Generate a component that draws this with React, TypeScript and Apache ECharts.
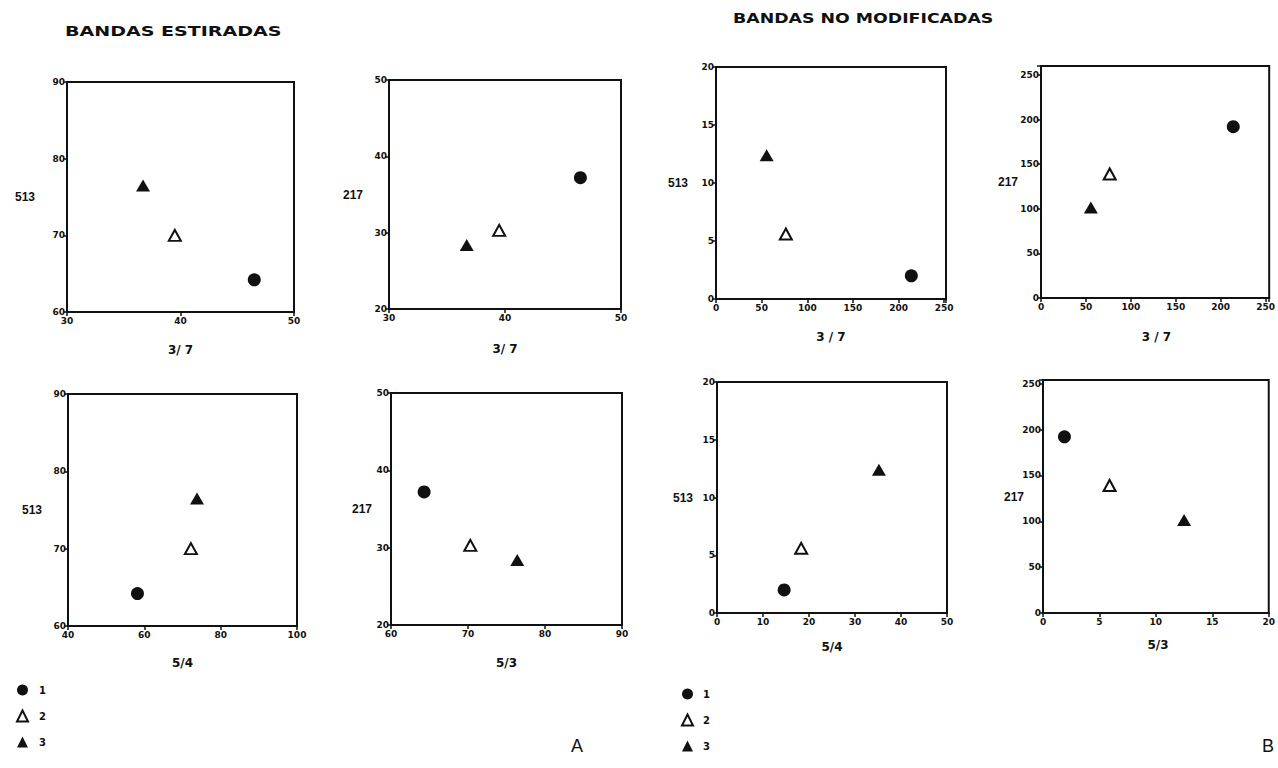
import React, { useEffect, useRef } from 'react';
import * as echarts from 'echarts';

const groups = ['1', '2', '3'];

// Bandas estiradas (A)
const estRatio37 = [46.5, 39.5, 36.7];
const estRatio54 = [58.2, 72.2, 73.8];
const estRatio53 = [64.3, 70.3, 76.4];
const estBand513 = [64.2, 70.0, 76.5];
const estBand217 = [37.2, 30.3, 28.4];

// Bandas no modificadas (B)
const noModRatio37 = [214, 76.5, 55.5];
const noModRatio54 = [14.6, 18.3, 35.2];
const noModRatio53 = [1.9, 5.9, 12.5];
const noModBand513 = [2.0, 5.6, 12.4];
const noModBand217 = [192, 139, 101.5];

const titleA = 'BANDAS ESTIRADAS';
const titleB = 'BANDAS NO MODIFICADAS';

type Panel = {
  xs: number[]; ys: number[]; xName: string; yName: string;
  xMin: number; xMax: number; xInt: number;
  yMin: number; yMax: number; yInt: number;
  left: number; top: number; width: number; height: number;
  yNameRight: number; xNameGap: number;
};

const panels: Panel[] = [
  { xs: estRatio37, ys: estBand513, xName: '3/ 7', yName: '513', xMin: 30, xMax: 50, xInt: 10, yMin: 60, yMax: 90, yInt: 10, left: 67, top: 82, width: 227, height: 230, yNameRight: 35, xNameGap: 38 },
  { xs: estRatio37, ys: estBand217, xName: '3/ 7', yName: '217', xMin: 30, xMax: 50, xInt: 10, yMin: 20, yMax: 50, yInt: 10, left: 389, top: 80, width: 232, height: 229, yNameRight: 363, xNameGap: 40 },
  { xs: noModRatio37, ys: noModBand513, xName: '3 / 7', yName: '513', xMin: 0, xMax: 252, xInt: 50, yMin: 0, yMax: 20, yInt: 5, left: 716, top: 67, width: 230, height: 232, yNameRight: 688, xNameGap: 38 },
  { xs: noModRatio37, ys: noModBand217, xName: '3 / 7', yName: '217', xMin: 0, xMax: 254, xInt: 50, yMin: 0, yMax: 260, yInt: 50, left: 1041, top: 66, width: 231, height: 232, yNameRight: 1018, xNameGap: 39 },
  { xs: estRatio54, ys: estBand513, xName: '5/4', yName: '513', xMin: 40, xMax: 100, xInt: 20, yMin: 60, yMax: 90, yInt: 10, left: 68, top: 394, width: 229, height: 232, yNameRight: 42, xNameGap: 37 },
  { xs: estRatio53, ys: estBand217, xName: '5/3', yName: '217', xMin: 60, xMax: 90, xInt: 10, yMin: 20, yMax: 50, yInt: 10, left: 391, top: 393, width: 231, height: 232, yNameRight: 372, xNameGap: 38 },
  { xs: noModRatio54, ys: noModBand513, xName: '5/4', yName: '513', xMin: 0, xMax: 50, xInt: 10, yMin: 0, yMax: 20, yInt: 5, left: 717, top: 382, width: 230, height: 231, yNameRight: 693, xNameGap: 34 },
  { xs: noModRatio53, ys: noModBand217, xName: '5/3', yName: '217', xMin: 0, xMax: 20, xInt: 5, yMin: 0, yMax: 254, yInt: 50, left: 1043, top: 380, width: 230, height: 233, yNameRight: 1024, xNameGap: 32 },
];

const INK = '#111';
const FONT = 'DejaVu Sans';

const symbolFor = (g: number) => (g === 0 ? 'circle' : 'triangle');
const sizeFor = (g: number) => (g === 0 ? 13 : g === 1 ? [12, 11] : [14, 12]);
const styleFor = (g: number) =>
  g === 1
    ? { color: '#fff', borderColor: INK, borderWidth: 2, opacity: 1 }
    : { color: INK, borderColor: INK, borderWidth: 0, opacity: 1 };

function labelFmt(int: number) {
  return (v: number) => (Math.abs(v / int - Math.round(v / int)) < 1e-6 ? String(v) : '');
}

export default function App() {
  const ref = useRef<HTMLDivElement>(null);
  useEffect(() => {
    document.body.style.margin = '0';
    if (!ref.current) return;
    const chart = echarts.init(ref.current, undefined, { renderer: 'svg' });

    const grid = panels.map((p) => ({
      left: p.left, top: p.top, width: p.width, height: p.height,
      show: true, borderColor: INK, borderWidth: 2, backgroundColor: 'transparent',
    }));
    const xAxis = panels.map((p, i) => ({
      type: 'value', gridIndex: i, min: p.xMin, max: p.xMax, interval: p.xInt,
      axisLine: { show: true, lineStyle: { color: INK, width: 2 } },
      axisTick: { show: true, length: 4, lineStyle: { color: INK, width: 1.5 } },
      axisLabel: { color: INK, fontSize: 9, fontWeight: 'bold', fontFamily: FONT, margin: 4, formatter: labelFmt(p.xInt) },
      splitLine: { show: false },
    }));
    const yAxis = panels.map((p, i) => ({
      type: 'value', gridIndex: i, min: p.yMin, max: p.yMax, interval: p.yInt,
      axisLine: { show: true, lineStyle: { color: INK, width: 2 } },
      axisTick: { show: true, length: 4, lineStyle: { color: INK, width: 1.5 } },
      axisLabel: { color: INK, fontSize: 9, fontWeight: 'bold', fontFamily: FONT, margin: 2, formatter: labelFmt(p.yInt) },
      splitLine: { show: false },
    }));

    const series: any[] = [];
    panels.forEach((p, i) => {
      groups.forEach((g, gi) => {
        series.push({
          type: 'scatter', name: g, xAxisIndex: i, yAxisIndex: i,
          symbol: symbolFor(gi), symbolSize: sizeFor(gi),
          itemStyle: styleFor(gi),
          emphasis: { disabled: true },
          data: [[p.xs[gi], p.ys[gi]]],
        });
      });
    });

    const graphic: any[] = [
      { type: 'text', left: 65, top: 24, scaleX: 1.36, style: { text: titleA, fontSize: 14, fontWeight: 'bold', fontFamily: FONT, fill: INK } },
      { type: 'text', left: 733, top: 11, scaleX: 1.24, style: { text: titleB, fontSize: 14, fontWeight: 'bold', fontFamily: FONT, fill: INK } },
      { type: 'text', x: 577, y: 746, style: { text: 'A', fontSize: 18, fontFamily: 'Liberation Sans', fill: INK, align: 'center', verticalAlign: 'middle' } },
      { type: 'text', x: 1268, y: 746, style: { text: 'B', fontSize: 18, fontFamily: 'Liberation Sans', fill: INK, align: 'center', verticalAlign: 'middle' } },
    ];
    panels.forEach((p) => {
      graphic.push({
        type: 'text', x: p.yNameRight, y: p.top + p.height / 2,
        style: { text: p.yName, fontSize: 12, fontWeight: 'bold', fontFamily: 'Liberation Sans', fill: INK, align: 'right', verticalAlign: 'middle' },
      });
      graphic.push({
        type: 'text', x: p.left + p.width / 2, y: p.top + p.height + p.xNameGap,
        style: { text: p.xName, fontSize: 12, fontWeight: 'bold', fontFamily: FONT, fill: INK, align: 'center', verticalAlign: 'middle' },
      });
    });

    const legendBase = {
      orient: 'vertical', data: groups, itemWidth: 11, itemHeight: 11, padding: 0,
      selectedMode: false,
    };
    const legendText = (pad: number) => ({
      color: INK, fontSize: 10, fontWeight: 'bold', fontFamily: FONT, lineHeight: 14, padding: [0, 0, 0, pad],
    });

    chart.setOption({
      animation: false,
      backgroundColor: '#fff',
      grid, xAxis, yAxis, series, graphic,
      legend: [
        { ...legendBase, left: 16, top: 683, itemGap: 12, textStyle: legendText(6) },
        { ...legendBase, left: 681, top: 687, itemGap: 12, textStyle: legendText(5) },
      ],
    });
    return () => chart.dispose();
  }, []);
  return <div ref={ref} style={{ width: 1278, height: 768 }} />;
}
